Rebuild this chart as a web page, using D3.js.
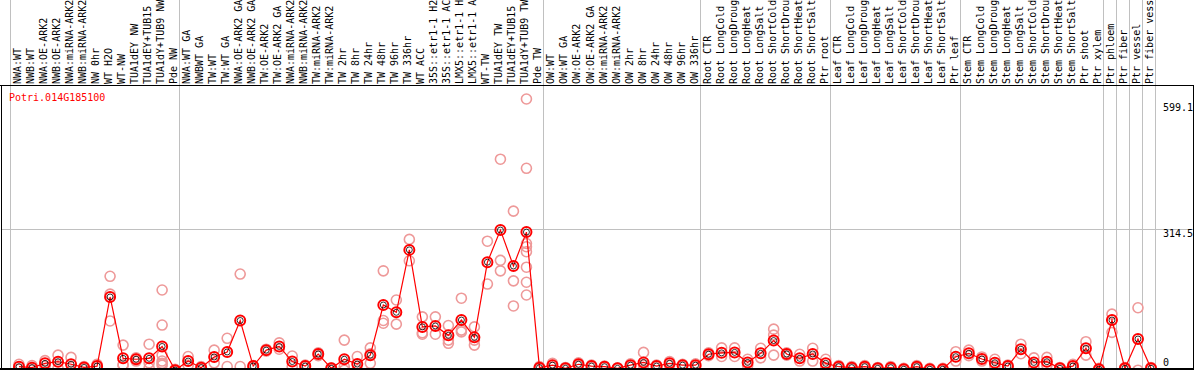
<!DOCTYPE html>
<html><head><meta charset="utf-8">
<script src="https://cdn.jsdelivr.net/npm/d3@7"></script>
<style>
html,body{margin:0;padding:0;background:#fff;overflow:hidden}
svg{display:block}
text{font-family:"DejaVu Sans Mono",monospace;font-size:10px}
</style></head>
<body>
<svg id="c" width="1194" height="370"></svg>
<script>
const geneName = "Potri.014G185100";

const categories = [
 "NWA:WT","NWB:WT","NWA:OE-ARK2","NWB:OE-ARK2","NWA:miRNA-ARK2","NWB:miRNA-ARK2","NW 0hr","WT H2O","WT-NW","TUA1dEY NW","TUA1dEY+TUB15 NW","TUA1dY+TUB9 NW","Pde NW",
 "NWA:WT GA","NWBWT GA","TW:WT","TW:WT GA","NWA:OE-ARK2 GA","NWB:OE-ARK2 GA","TW:OE-ARK2","TW:OE-ARK2 GA","NWA:miRNA-ARK2","NWB:miRNA-ARK2","TW:miRNA-ARK2","TW:miRNA-ARK2","TW 2hr","TW 8hr","TW 24hr","TW 48hr","TW 96hr","TW 336hr","WT ACC","35S::etr1-1 H2O","35S::etr1-1 ACC","LMX5::etr1-1 H2O","LMX5::etr1-1 ACC","WT-TW","TUA1dEY TW","TUA1dEY+TUB15 TW","TUA1dY+TUB9 TW","Pde TW",
 "OW:WT","OW:WT GA","OW:OE-ARK2","OW:OE-ARK2 GA","OW:miRNA-ARK2","OW:miRNA-ARK2","OW 2hr","OW 8hr","OW 24hr","OW 48hr","OW 96hr","OW 336hr",
 "Root CTR","Root LongCold","Root LongDrought","Root LongHeat","Root LongSalt","Root ShortCold","Root ShortDrought","Root ShortHeat","Root ShortSalt","Ptr root",
 "Leaf CTR","Leaf LongCold","Leaf LongDrought","Leaf LongHeat","Leaf LongSalt","Leaf ShortCold","Leaf ShortDrought","Leaf ShortHeat","Leaf ShortSalt","Ptr leaf",
 "Stem CTR","Stem LongCold","Stem LongDrought","Stem LongHeat","Stem LongSalt","Stem ShortCold","Stem ShortDrought","Stem ShortHeat","Stem ShortSalt","Ptr shoot","Ptr xylem",
 "Ptr phloem","Ptr fiber","Ptr vessel","Ptr fiber vessel"
];

// index of first column of each separated group
const groupStarts = [0, 13, 41, 53, 63, 73, 84, 85, 86, 87, 88];

const means = [
 11.6, 9.5, 19, 22.6, 17, 10, 13, 164.6, 30, 28, 30, 56, 4,
 24, 9.5, 33, 44, 113, 13, 48, 56, 23, 13, 39.5, 8, 28, 17.5, 37, 147, 131, 268, 99, 101, 80.5, 114, 76, 241, 311.5, 232.6, 307, 9.5,
 15, 8, 17, 13, 11.6, 8, 15, 21, 13, 19, 15, 15,
 39, 42, 43, 21, 41, 69, 39.5, 30, 39.5, 19,
 11.6, 9.5, 11.6, 8, 9.5, 6, 11.6, 6, 6, 33.6,
 41, 28.5, 20.4, 13, 50, 21, 22.6, 8, 13, 52, 6,
 114, 8, 72.4, 8
];

const replicates = [
 [17,6],[14,5],[25,13],[37,8],[32,2],[12,8],[17,9],[210,171,112],[59,15,16],[24,31,29],[61,9,20],[180,103,37,24,19,15],[6,2],
 [34,15],[12,6],[48,20],[74,12],[215,12],[14,10],[50,46],[64,50],[35,12],[15,11],[42,36],[9,6],[70,12,4],[34,5],[53,19,40],
 [222,113,107],[158,105],[291,244],[121,86,83],[121,83],[102,70,63],[162,92,88],[99,59,70],[287,193],[467,245,222],[353,200,145],
 [599.1,447,282,275,264,230,197,169],[12,7],
 [19,11],[10,6],[20,14],[15,11],[13,10],[9,7],[18,12],[43,5,15],[15,11],[23,15],[17,13],[18,12],
 [42,36],[53,34],[53,34],[28,14],[52,31],[94,81,37],[42,37],[39,24],[52,24],[28,10],
 [14,9],[12,7],[14,9],[10,6],[12,7],[8,4],[14,9],[8,4],[8,4],[44.5,24],
 [48,36],[33,24],[28,13],[15,11],[61,40],[31,11],[32,15],[10,6],[17,9],[66.5,37],[8,4],
 [127,87],[10,6],[141,4],[10,6]
];

const yTicks = [0, 314.5, 599.1];
const yMax = 599.1;

const svg = d3.select("#c");
const idx = d3.range(categories.length);
const x = d3.scaleBand().domain(idx).range([10, 1155]).padding(0);
const y = d3.scaleLinear().domain([0, yMax]).range([372, 99]);

const plotTop = 85, plotBottom = 369, plotLeft = 1, plotRight = 1193;

// group separator lines (full height)
svg.append("g").selectAll("line").data(groupStarts).join("line")
  .attr("x1", d => Math.round(d < categories.length ? x(d) : x(categories.length-1) + x.bandwidth()) + 0.5)
  .attr("x2", d => Math.round(d < categories.length ? x(d) : x(categories.length-1) + x.bandwidth()) + 0.5)
  .attr("y1", 0).attr("y2", plotBottom)
  .attr("stroke", "#c0c0c0").attr("stroke-width", 1);

// mid gridline
svg.append("line")
  .attr("x1", plotLeft).attr("x2", plotRight)
  .attr("y1", Math.round(y(314.5)) + 0.5).attr("y2", Math.round(y(314.5)) + 0.5)
  .attr("stroke", "#c0c0c0");

// column labels
svg.append("g").selectAll("text").data(idx).join("text")
  .attr("transform", d => `translate(${x(d) + 11},84) rotate(-90)`)
  .attr("text-anchor", "start")
  .attr("fill", "#000")
  .text(d => categories[d]);

// frame
svg.append("line").attr("x1", 0).attr("x2", 1194).attr("y1", 85.5).attr("y2", 85.5).attr("stroke", "#000");
svg.append("line").attr("x1", 0).attr("x2", 1194).attr("y1", plotBottom).attr("y2", plotBottom).attr("stroke", "#000").attr("stroke-width", 2);
svg.append("line").attr("x1", 1.5).attr("x2", 1.5).attr("y1", plotTop).attr("y2", plotBottom).attr("stroke", "#000");
svg.append("line").attr("x1", plotRight + 0.5).attr("x2", plotRight + 0.5).attr("y1", plotTop).attr("y2", plotBottom).attr("stroke", "#000");

// y labels
svg.append("g").selectAll("text").data(yTicks).join("text")
  .attr("x", 1163)
  .attr("y", d => d === 0 ? y(d) - 6 : y(d) + (d === yMax ? 12 : 8))
  .attr("fill", "#000")
  .text(d => d === 0 ? "0" : d);

// gene name
svg.append("text").attr("x", 9).attr("y", 101).attr("fill", "#ff0000").text(geneName);

// plot content clipped
svg.append("clipPath").attr("id", "pc").append("rect")
  .attr("x", plotLeft + 1).attr("y", plotTop + 1).attr("width", plotRight - plotLeft - 1).attr("height", plotBottom - plotTop - 2);
const g = svg.append("g").attr("clip-path", "url(#pc)");
const px = i => x(i) + 9;

const reps = [];
replicates.forEach((arr, i) => arr.forEach(v => reps.push({i, v})));
g.append("g").selectAll("circle").data(reps).join("circle")
  .attr("cx", d => px(d.i)).attr("cy", d => y(d.v)).attr("r", 5)
  .attr("fill", "none").attr("stroke", "#ee9999").attr("stroke-width", 1.6);

g.append("path").datum(means)
  .attr("d", d3.line().x((d, i) => px(i)).y(d => y(d)))
  .attr("fill", "none").attr("stroke", "#ff0000").attr("stroke-width", 1.2);

const mg = g.append("g").selectAll("g").data(means).join("g")
  .attr("transform", (d, i) => `translate(${px(i)},${y(d)})`);
mg.append("circle").attr("r", 5).attr("fill", "none").attr("stroke", "#ff0000").attr("stroke-width", 2);
mg.append("circle").attr("r", 3).attr("fill", "none").attr("stroke", "#000").attr("stroke-width", 0.8);
</script>
</body></html>
